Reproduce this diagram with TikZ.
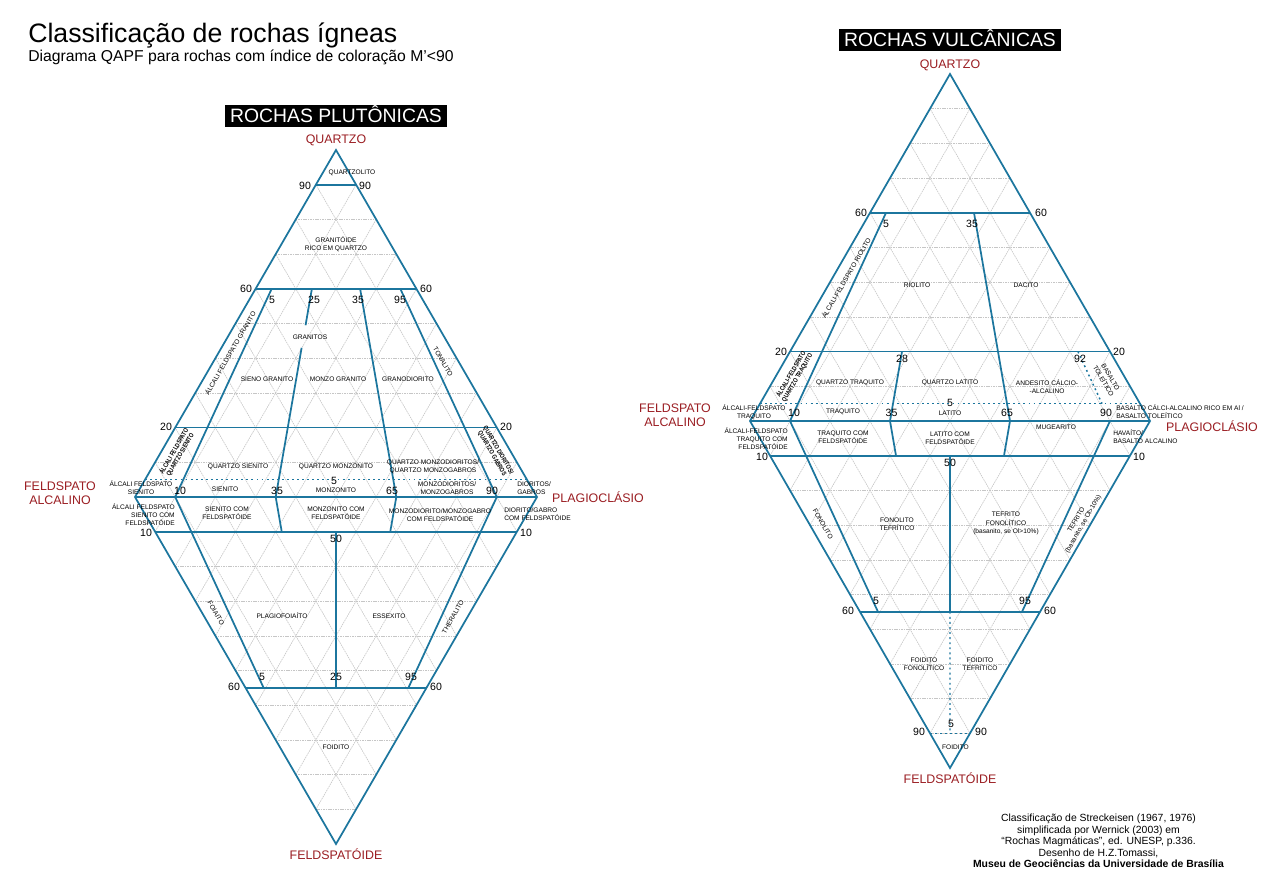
\documentclass[tikz,border=0pt]{standalone}
\usepackage{fontspec}
\setmainfont{Liberation Sans}
\usetikzlibrary{calc}
\definecolor{lblue}{RGB}{28,118,158}
\definecolor{dred}{RGB}{155,30,35}
\newcommand{\setdiag}[4]{\def\dxA{#1}\def\dyO{#2}\def\dS{#3}\def\dH{#4}}
\newcommand{\Qpt}[3]{\pgfmathsetmacro\tmpx{\dxA+(#2)*\dS/2+(#3)*(1-(#2))*\dS}\pgfmathsetmacro\tmpy{\dyO-(#2)*\dH}\coordinate (#1) at (\tmpx,\tmpy);}
\newcommand{\Fpt}[3]{\pgfmathsetmacro\tmpx{\dxA+(#2)*\dS/2+(#3)*(1-(#2))*\dS}\pgfmathsetmacro\tmpy{\dyO+(#2)*\dH}\coordinate (#1) at (\tmpx,\tmpy);}
\newcommand{\Qseg}[4][]{\Qpt{sa}{#3}{#2}\Qpt{sb}{#4}{#2}\draw[bline,#1] (sa)--(sb);}
\newcommand{\Fseg}[4][]{\Fpt{sa}{#3}{#2}\Fpt{sb}{#4}{#2}\draw[bline,#1] (sa)--(sb);}
\newcommand{\Qhor}[2][]{\Qpt{ha}{#2}{0}\Qpt{hb}{#2}{1}\draw[bline,#1] (ha)--(hb);}
\newcommand{\Fhor}[2][]{\Fpt{ha}{#2}{0}\Fpt{hb}{#2}{1}\draw[bline,#1] (ha)--(hb);}
\newcommand{\drawgrid}{%
 \foreach \k in {1,...,9}{%
  \pgfmathsetmacro\kk{\k/10}%
  \Qpt{ga}{\kk}{0}\Qpt{gb}{\kk}{1}\draw[gridline] (ga)--(gb);
  \Qpt{ga}{0}{\kk}\Qpt{gb}{1-\kk}{1}\draw[gridline] (ga)--(gb);
  \Qpt{ga}{0}{\kk}\Qpt{gb}{\kk}{0}\draw[gridline] (ga)--(gb);
  \Fpt{ga}{\kk}{0}\Fpt{gb}{\kk}{1}\draw[gridline] (ga)--(gb);
  \Fpt{ga}{0}{\kk}\Fpt{gb}{1-\kk}{1}\draw[gridline] (ga)--(gb);
  \Fpt{ga}{0}{\kk}\Fpt{gb}{\kk}{0}\draw[gridline] (ga)--(gb);
 }}
\begin{document}
\begin{tikzpicture}[x=0.75pt,y=-0.75pt,
  bline/.style={lblue,line width=1.3pt,line join=miter},
  dotline/.style={lblue,line width=1.1pt,dash pattern=on 1.4pt off 2.4pt},
  gridline/.style={gray!45,line width=0.45pt,dash pattern=on 1.2pt off 0.6pt},
  lbl/.style={font=\fontsize{4.95}{6.1}\selectfont,align=center,inner sep=0pt},
  num/.style={font=\fontsize{7.9}{9}\selectfont,inner sep=0pt},
  redl/.style={text=dred,font=\fontsize{9.3}{10.6}\selectfont,align=center,inner sep=0pt},
  bl/.style={font=\bfseries\fontsize{4.9}{5.3}\selectfont,align=center,inner sep=0pt,xscale=0.8},
  boxt/.style={fill=black,text=white,font=\fontsize{14.5}{16}\selectfont,inner sep=0pt,minimum height=16.5pt,text height=10.4pt,text depth=0pt},
  credit/.style={font=\fontsize{7.8}{8.6}\selectfont,align=center,inner sep=0pt}]
\fill[white] (0,0) rectangle (1280,881);
\useasboundingbox (0,0) rectangle (1280,881);

% titles
\node[anchor=base west,inner sep=0pt,font=\fontsize{20}{22}\selectfont] (title) at (28,43) {Classificação de rochas ígneas};
\node[anchor=base west,inner sep=0pt,font=\fontsize{11.8}{13}\selectfont] (subtitle) at (28,61) {Diagrama QAPF para rochas com índice de coloração M’<90};

% ================= LEFT: plutonic =================
\setdiag{135}{497}{402}{347}
\drawgrid
\Qpt{LQ}{1}{0}\Qpt{LA}{0}{0}\Qpt{LP}{0}{1}\Fpt{LF}{1}{0}
\draw[bline] (LA)--(LQ)--(LP)--(LF)--cycle;
\draw[bline] (LA)--(LP);
\Qhor{0.9}\Qhor{0.6}\Qhor{0.2}\Qhor[dotline]{0.05}
\Fhor{0.1}\Fhor{0.55}
\Qseg{0.1}{0.6}{0}\Fseg{0.1}{0}{0.55}
\Qseg{0.35}{0.6}{0.495}\Qseg{0.35}{0.43}{0}\Fseg{0.35}{0}{0.1}
\Qseg{0.65}{0.6}{0}\Fseg{0.65}{0}{0.1}
\Qseg{0.9}{0.6}{0}\Fseg{0.9}{0}{0.55}
\Fseg{0.5}{0.1}{0.55}

\node[boxt,minimum width=166.5pt] (lbox) at (336,116) {ROCHAS PLUTÔNICAS};
\node[redl] (lq) at (336,140) {QUARTZO};
\node[redl] (la) at (60,493) {FELDSPATO\\ALCALINO};
\node[redl] (lp) at (598,497) {PLAGIOCLÁSIO};
\node[redl] (lf) at (336,854) {FELDSPATÓIDE};

\node[num] (ln1) at (305,186) {90};
\node[num] (ln2) at (365,186) {90};
\node[num] (ln3) at (246,289) {60};
\node[num] (ln4) at (426,289) {60};
\node[num] (ln5) at (272,300) {5};
\node[num] (ln6) at (314,300) {25};
\node[num] (ln7) at (358,300) {35};
\node[num] (ln8) at (400,300) {95};
\node[num] (ln9) at (166,427) {20};
\node[num] (ln10) at (506,427) {20};
\node[num] (ln11) at (180,491) {10};
\node[num] (ln12) at (277,491) {35};
\node[num] (ln13) at (334,481) {5};
\node[num] (ln14) at (392,491) {65};
\node[num] (ln15) at (492,491) {90};
\node[num] (ln16) at (146,533) {10};
\node[num] (ln17) at (526,533) {10};
\node[num] (ln18) at (336,539) {50};
\node[num] (ln19) at (262,677) {5};
\node[num] (ln20) at (336,677) {25};
\node[num] (ln21) at (411,677) {95};
\node[num] (ln22) at (234,687) {60};
\node[num] (ln23) at (436,687) {60};

\node[lbl] (lt1) at (352,173) {QUARTZOLITO};
\node[lbl] (lt2) at (336,244) {GRANITÓIDE\\RICO EM QUARTZO};
\node[lbl] (lt3) at (310,337) {GRANITOS};
\node[lbl] (lt4) at (267,379) {SIENO GRANITO};
\node[lbl] (lt5) at (338,379) {MONZO GRANITO};
\node[lbl] (lt6) at (408,379) {GRANODIORITO};
\node[lbl,rotate=60] (lt7) at (230,353) {ÁLCALI FELDSPATO GRANITO};
\node[lbl,rotate=-60] (lt8) at (443,362) {TONALITO};
\node[rotate=60,bl] (lt9) at (177,453) {ÁLCALI FELDSPATO\\QUARTZO SIENITO};
\node[lbl] (lt10) at (238,467) {QUARTZO SIENITO};
\node[lbl] (lt11) at (336,467) {QUARTZO MONZONITO};
\node[lbl] (lt12) at (433,466.5) {QUARTZO MONZODIORITOS/\\QUARTZO MONZOGABROS};
\node[rotate=-60,bl] (lt13) at (495,452) {QUARTZO DIORITOS/\\QUARTZO GABROS};
\node[lbl] (lt14) at (141,488) {ÁLCALI FELDSPATO\\SIENITO};
\node[lbl] (lt15) at (225,489) {SIENITO};
\node[lbl] (lt16) at (336,490) {MONZONITO};
\node[lbl] (lt17) at (447,488.5) {MONZODIORITOS/\\MONZOGABROS};
\node[lbl,anchor=west,align=left] (lt18) at (517,488) {DIORITOS/\\GABROS};
\node[lbl,anchor=east,align=right] (lt19) at (175,515) {ÁLCALI FELDSPATO\\SIENITO COM\\FELDSPATÓIDE};
\node[lbl] (lt20) at (227,513) {SIENITO COM\\FELDSPATÓIDE};
\node[lbl] (lt21) at (336,513) {MONZONITO COM\\FELDSPATÓIDE};
\node[lbl] (lt22) at (440,515) {MONZODIORITO/MONZOGABRO\\COM FELDSPATÓIDE};
\node[lbl,anchor=west,align=left] (lt23) at (504,514) {DIORITO/GABRO\\COM FELDSPATÓIDE};
\node[lbl,rotate=-60] (lt24) at (216,613) {FOIAITO};
\node[lbl] (lt25) at (282,616) {PLAGIOFOIAÍTO};
\node[lbl] (lt26) at (389,616) {ESSEXITO};
\node[lbl,rotate=60] (lt27) at (453,617) {THERALITO};
\node[lbl] (lt28) at (336,747) {FOIDITO};

% ================= RIGHT: volcanic =================
\setdiag{750}{421}{400}{347}
\drawgrid
\Qpt{RQ}{1}{0}\Qpt{RA}{0}{0}\Qpt{RP}{0}{1}\Fpt{RF}{1}{0}
\draw[bline] (RA)--(RQ)--(RP)--(RF)--cycle;
\draw[bline] (RA)--(RP);
\Qhor{0.6}\Qhor{0.2}\Qhor[dotline]{0.05}
\Fhor{0.1}\Fhor{0.55}\Fhor[dotline]{0.9}
\Qseg{0.1}{0.6}{0}\Fseg{0.1}{0}{0.55}
\Qseg{0.35}{0.2}{0}\Fseg{0.35}{0}{0.1}
\Qseg{0.65}{0.6}{0}\Fseg{0.65}{0}{0.1}
\Qseg[dotline]{0.9}{0.2}{0.05}\Fseg{0.9}{0}{0.55}
\Fseg{0.5}{0.1}{0.55}\Fseg[dotline]{0.5}{0.55}{0.9}

\node[boxt,minimum width=167pt] (rbox) at (950,40) {ROCHAS VULCÂNICAS};
\node[redl] (rq) at (950,65) {QUARTZO};
\node[redl] (ra) at (675,415.5) {FELDSPATO\\ALCALINO};
\node[redl] (rp) at (1212,426) {PLAGIOCLÁSIO};
\node[redl] (rf) at (950,778) {FELDSPATÓIDE};

\node[num] (rn1) at (861,213) {60};
\node[num] (rn2) at (1041,213) {60};
\node[num] (rn3) at (886,224) {5};
\node[num] (rn4) at (972,224) {35};
\node[num] (rn5) at (781,352) {20};
\node[num] (rn6) at (1119,352) {20};
\node[num] (rn7) at (902,359) {28};
\node[num] (rn8) at (1080,359) {92};
\node[num] (rn9) at (950,403) {5};
\node[num] (rn10) at (794,413) {10};
\node[num] (rn11) at (891.5,413) {35};
\node[num] (rn12) at (1007,413) {65};
\node[num] (rn13) at (1106,413) {90};
\node[num] (rn14) at (762,457) {10};
\node[num] (rn15) at (1139,457) {10};
\node[num] (rn16) at (950,463) {50};
\node[num] (rn17) at (876,601) {5};
\node[num] (rn18) at (1025,601) {95};
\node[num] (rn19) at (848,611) {60};
\node[num] (rn20) at (1050,611) {60};
\node[num] (rn21) at (951,724) {5};
\node[num] (rn22) at (919,732) {90};
\node[num] (rn23) at (981,732) {90};

\node[lbl] (rt1) at (917,285) {RIOLITO};
\node[lbl] (rt2) at (1026,285) {DACITO};
\node[lbl,rotate=60] (rt3) at (846,278) {ÁLCALI-FELDSPATO RIOLITO};
\node[rotate=60,bl] (rt4) at (794,376) {ÁLCALI-FELDSPATO\\QUARTZO TRAQUITO};
\node[lbl] (rt5) at (850,383) {QUARTZO TRAQUITO};
\node[lbl] (rt6) at (950,383) {QUARTZO LATITO};
\node[lbl] (rt7) at (1047,386.5) {ANDESITO CÁLCIO-\\-ALCALINO};
\node[lbl,rotate=-60] (rt8) at (1107,379) {BASALTO\\TOLEÍTICO};
\node[lbl] (rt9) at (754,412) {ÁLCALI-FELDSPATO\\TRAQUITO};
\node[lbl] (rt10) at (843,412) {TRAQUITO};
\node[lbl] (rt11) at (950,413) {LATITO};
\node[lbl,anchor=west,align=left] (rt12) at (1116,412) {BASALTO CÁLCI-ALCALINO RICO EM Al /\\BASALTO TOLEÍTICO};
\node[lbl,anchor=east,align=right] (rt13) at (788,438.5) {ÁLCALI-FELDSPATO\\TRAQUITO COM\\FELDSPATÓIDE};
\node[lbl] (rt14) at (843,437.5) {TRAQUITO COM\\FELDSPATÓIDE};
\node[lbl] (rt15) at (950,438.5) {LATITO COM\\FELDSPATÓIDE};
\node[lbl] (rt16) at (1056,427) {MUGEARITO};
\node[lbl,anchor=west,align=left] (rt17) at (1113,437) {HAVAÍTO/\\BASALTO ALCALINO};
\node[lbl,rotate=-60] (rt18) at (823,524) {FONOLITO};
\node[lbl] (rt19) at (897,524.5) {FONOLITO\\TEFRÍTICO};
\node[lbl] (rt20) at (1006,523.5) {TEFRITO\\FONOLÍTICO\\(basanito, se Ol>10\%)};
\node[lbl,rotate=60] (rt21) at (1080,522) {TEFRITO\\(basanito, se Ol>10\%)};
\node[lbl] (rt22) at (924,664) {FOIDITO\\FONOLÍTICO};
\node[lbl] (rt23) at (980,664) {FOIDITO\\TEFRÍTICO};
\node[lbl] (rt24) at (955.5,747) {FOIDITO};

\node[credit] (cr) at (1098.5,841) {Classificação de Streckeisen (1967, 1976)\\simplificada por Wernick (2003) em\\“Rochas Magmáticas”, ed. UNESP, p.336.\\Desenho de H.Z.Tomassi,\\\textbf{Museu de Geociências da Universidade de Brasília}};
\end{tikzpicture}
\end{document}
